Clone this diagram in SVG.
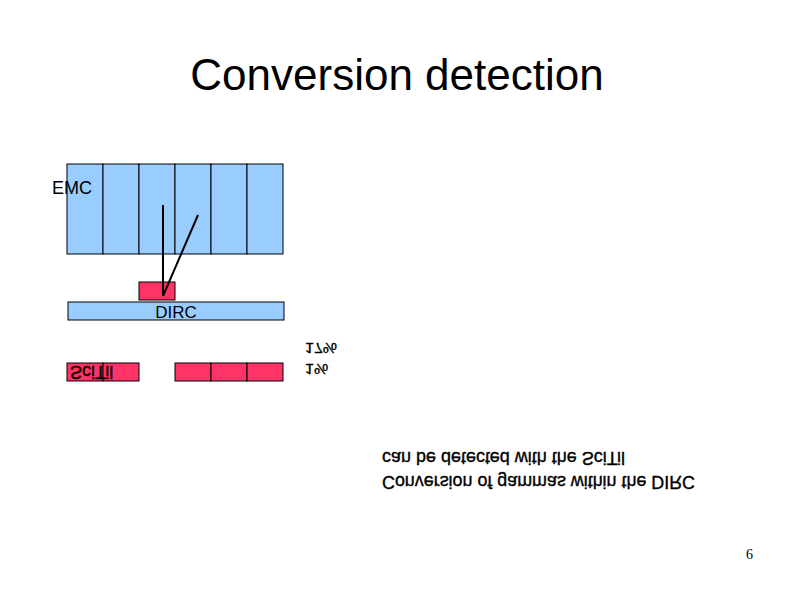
<svg xmlns="http://www.w3.org/2000/svg" width="794" height="595" viewBox="0 0 794 595">
<style>
.blue{fill:#99CCFF;stroke:#000;stroke-width:1}
.red{fill:#FF3366;stroke:#000;stroke-width:1}
.t{font-family:"Liberation Sans",Arial,sans-serif;fill:#000}
.ln{stroke:#000;stroke-width:2;fill:none}
.flip{stroke:#000;stroke-width:0.35}
</style>
<rect width="794" height="595" fill="#fff"/>
<text class="t" x="397" y="90" font-size="44" text-anchor="middle">Conversion detection</text>
<g id="emc">
<rect class="blue" x="67" y="164" width="36" height="90"/>
<rect class="blue" x="103" y="164" width="36" height="90"/>
<rect class="blue" x="139" y="164" width="36" height="90"/>
<rect class="blue" x="175" y="164" width="36" height="90"/>
<rect class="blue" x="211" y="164" width="36" height="90"/>
<rect class="blue" x="247" y="164" width="36" height="90"/>
<text class="t" x="52" y="194" font-size="18">EMC</text>
</g>
<g id="conv">
<rect class="red" x="139" y="282" width="36" height="18"/>
</g>
<g id="dirc">
<rect class="blue" x="68" y="302" width="216" height="18"/>
<text class="t" x="176" y="318" font-size="17" text-anchor="middle" fill="#000033">DIRC</text>
</g>
<g id="scitil">
<rect class="red" x="67" y="363" width="36" height="18"/>
<rect class="red" x="103" y="363" width="36" height="18"/>
<text class="t flip" x="70" y="366" font-size="18" transform="translate(0,732) scale(1,-1)">SciTil</text>
<rect class="red" x="175" y="363" width="36" height="18"/>
<rect class="red" x="211" y="363" width="36" height="18"/>
<rect class="red" x="247" y="363" width="36" height="18"/>
</g>
<g id="connectors">
<line class="ln" x1="163" y1="205" x2="163" y2="296"/>
<line class="ln" x1="198" y1="215" x2="163" y2="296"/>
</g>
<g id="pct">
<text class="t flip" x="305" y="343" font-size="16" transform="translate(0,651.7) scale(1,-0.9)">17%</text>
<text class="t flip" x="305" y="364" font-size="16" transform="translate(0,691.6) scale(1,-0.9)">1%</text>
</g>
<g id="note">
<text class="t flip" x="382" y="452" font-size="18" transform="translate(0,904) scale(1,-1)" textLength="243" lengthAdjust="spacingAndGlyphs">can be detected with the SciTil</text>
<text class="t flip" x="382" y="476" font-size="18" transform="translate(0,952) scale(1,-1)" textLength="313" lengthAdjust="spacingAndGlyphs">Conversion of gammas within the DIRC</text>
</g>
<text x="746" y="559" font-family="'Liberation Serif','Times New Roman',serif" font-size="14" fill="#000">6</text>
</svg>
